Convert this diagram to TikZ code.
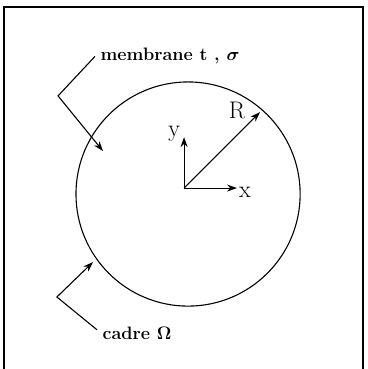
\documentclass[tikz,border=0pt]{standalone}
\usepackage{fix-cm}
\usepackage{amsmath}
\usepackage{amssymb}
\usepackage{tikz}
\usetikzlibrary{arrows.meta}

\begin{document}
\begin{tikzpicture}[>={Stealth[length=10pt,width=7pt]},line width=1.1pt,
  every node/.style={inner sep=1pt},
  lbl/.style={font=\fontsize{18}{21}\selectfont\bfseries,anchor=base west},
  axlbl/.style={font=\fontsize{24}{28}\selectfont}]

\clip (0,0) rectangle (12.9,12.97);

%Frame
\draw[line width=1.4pt] (0.14,-0.5) rectangle (12.76,12.72);

%Membrane
\draw (6.61,6.15) circle (3.94);

% Axes
\coordinate (O) at (6.47,6.36);
\coordinate (xtip) at (8.33,6.36);
\coordinate (ytip) at (6.47,8.15);
\coordinate (Rtip) at (9.14,9.03);
\node[axlbl] (xlab) at (8.61,6.22) {x};
\node[axlbl] (ylab) at (6.12,8.26) {y};
\node[axlbl] (Rlab) at (8.33,9.10) {R};
\draw[->] (O) -- (xtip);
\draw[->] (O) -- (ytip);
\draw[->] (O) -- (Rtip);

% Labels
\node[lbl] (membrane) at (3.48,10.83) {membrane t , $\boldsymbol{\sigma}$};
\node[lbl] (cadre) at (3.55,1.02) {cadre $\boldsymbol{\Omega}$};
\coordinate (kink-mem) at (2.04,9.60);
\coordinate (tip-mem) at (3.62,7.66);
\coordinate (kink-cad) at (2.00,2.53);
\coordinate (tip-cad) at (3.27,3.76);

% Connections
\draw[->] ([xshift=-4pt]membrane.west) -- (kink-mem) -- (tip-mem);
\draw[->] ([xshift=-4pt,yshift=4pt]cadre.west) -- (kink-cad) -- (tip-cad);

\end{tikzpicture}
\end{document}
